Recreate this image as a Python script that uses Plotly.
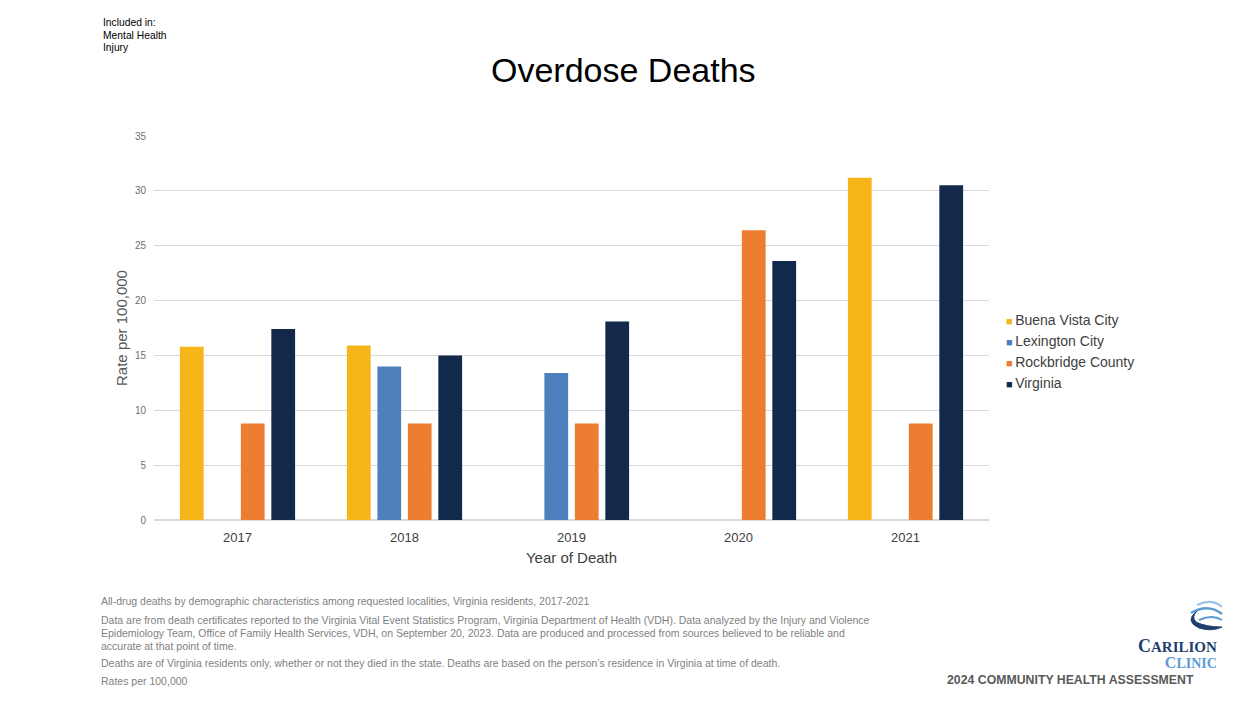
import plotly.graph_objects as go

years = ["2017", "2018", "2019", "2020", "2021"]
series_names = ["Buena Vista City", "Lexington City", "Rockbridge County", "Virginia"]
buena_vista = [15.8, 15.9, None, None, 31.2]
lexington = [None, 14.0, 13.4, None, None]
rockbridge = [8.8, 8.8, 8.8, 26.4, 8.8]
virginia = [17.4, 15.0, 18.1, 23.6, 30.5]
colors = ["#F6B619", "#4E80BE", "#ED7D31", "#13294B"]
y_ticks = [0, 5, 10, 15, 20, 25, 30, 35]

W, H = 1247, 701
OX, OY = 8, 8  # page body offset
FW, FH = W - OX, H - OY
L, R, T, B = 154 - OX, 258, 136 - OY, 181
PW, PH = FW - L - R, FH - T - B


def px(x):
    return (x - OX - L) / PW


def py(y):
    return (FH - B - (y - OY)) / PH


fig = go.Figure()
for name, vals, col in zip(series_names, [buena_vista, lexington, rockbridge, virginia], colors):
    fig.add_trace(go.Bar(x=years, y=vals, name=name, marker=dict(color=col, line=dict(width=0))))

font_main = "Liberation Sans, Arial, sans-serif"
fig.update_layout(
    width=FW, height=FH,
    margin=dict(l=L, r=R, t=T, b=B),
    paper_bgcolor="white", plot_bgcolor="white",
    barmode="group", bargap=0.27, bargroupgap=0.22,
    font=dict(family=font_main, color="#595959"),
    showlegend=False,
    xaxis=dict(
        showgrid=False, showline=True, linecolor="#D9D9D9", linewidth=1,
        ticks="", ticklabelstandoff=5, tickfont=dict(size=13, color="#404040"),
        title=dict(text="Year of Death", font=dict(size=15, color="#404040"), standoff=8),
    ),
    yaxis=dict(
        range=[0, 35], tickvals=y_ticks, showgrid=True, gridcolor="#D9D9D9", gridwidth=1,
        zeroline=True, zerolinecolor="#D9D9D9", ticks="", ticklabelstandoff=7,
        tickfont=dict(size=10, color="#6F6F6F"),
        title=dict(text="Rate per 100,000", font=dict(size=15, color="#595959"), standoff=3),
    ),
)

annotations = []


def note(x, y, text, size, color="#7F7F7F", family=font_main, anchor="left", yanchor="middle", align="left"):
    annotations.append(dict(
        x=px(x), y=py(y), xref="paper", yref="paper", text=text, showarrow=False,
        xanchor=anchor, yanchor=yanchor, align=align,
        font=dict(size=size, color=color, family=family),
    ))


for y, t in [(22, "Included in:"), (35, "Mental Health"), (48, "Injury")]:
    note(101, y, t, 10.3, color="#000000")

note(623, 70, "Overdose Deaths", 34, color="#000000", anchor="center")

# custom legend (small square swatches as in the reference)
for i, (name, col) in enumerate(zip(series_names, colors)):
    note(1004, 320 + 21 * i,
         f"<span style='color:{col};font-size:11px'>\u25A0</span><span style='font-size:9px'>\u00a0</span>{name}",
         14, color="#404040")

foot = [
    (601, "All-drug deaths by demographic characteristics among requested localities, Virginia residents, 2017-2021"),
    (620, "Data are from death certificates reported to the Virginia Vital Event Statistics Program, Virginia Department of Health (VDH). Data analyzed by the Injury and Violence"),
    (633, "Epidemiology Team, Office of Family Health Services, VDH, on September 20, 2023. Data are produced and processed from sources believed to be reliable and"),
    (646, "accurate at that point of time."),
    (663, "Deaths are of Virginia residents only, whether or not they died in the state. Deaths are based on the person\u2019s residence in Virginia at time of death."),
    (681, "Rates per 100,000"),
]
for y, t in foot:
    note(99, y, t, 10.5, color="#7F7F7F")

note(945, 680, "<b>2024 COMMUNITY HEALTH ASSESSMENT</b>", 12.3, color="#595959")
logo_text = (
    "<b><span style='color:#1F3F6E'><span style='font-size:18px'>C</span>"
    "<span style='font-size:15px'>ARILION</span></span><br>"
    "<span style='color:#5B9BD5'><span style='font-size:16px'>C</span>"
    "<span style='font-size:14px'>LINIC</span></span></b>"
)
note(1219, 653, logo_text, 12.5, color="#1F3F6E",
     family="Liberation Serif, Times New Roman, serif", anchor="right", align="right")
fig.update_layout(annotations=annotations)

# logo globe swooshes
arcs = [
    ("#9DC3E6", 2.2, [(1197, 605), (1212, 598), (1222, 607)]),
    ("#5B9BD5", 2.5, [(1191, 613), (1208, 603), (1222, 614)]),
    ("#5B9BD5", 2.0, [(1199, 620), (1212, 614), (1222, 620)]),
]
for col, wdt, pts in arcs:
    (x0, y0), (x1, y1), (x2, y2) = pts
    path = f"M {px(x0)},{py(y0)} Q {px(x1)},{py(y1)} {px(x2)},{py(y2)}"
    fig.add_shape(type="path", path=path, xref="paper", yref="paper",
                  line=dict(color=col, width=wdt))

cres = [(1197, 611), (1184, 621), (1199, 628), (1212, 632), (1222, 627), (1206, 627), (1196, 622), (1191, 617)]
cpath = (f"M {px(cres[0][0])},{py(cres[0][1])} "
         f"Q {px(cres[1][0])},{py(cres[1][1])} {px(cres[2][0])},{py(cres[2][1])} "
         f"Q {px(cres[3][0])},{py(cres[3][1])} {px(cres[4][0])},{py(cres[4][1])} "
         f"Q {px(cres[5][0])},{py(cres[5][1])} {px(cres[6][0])},{py(cres[6][1])} "
         f"Q {px(cres[7][0])},{py(cres[7][1])} {px(cres[0][0])},{py(cres[0][1])} Z")
fig.add_shape(type="path", path=cpath, xref="paper", yref="paper",
              fillcolor="#1F3F6E", line=dict(color="#1F3F6E", width=1))

fig.write_html("out.html")
